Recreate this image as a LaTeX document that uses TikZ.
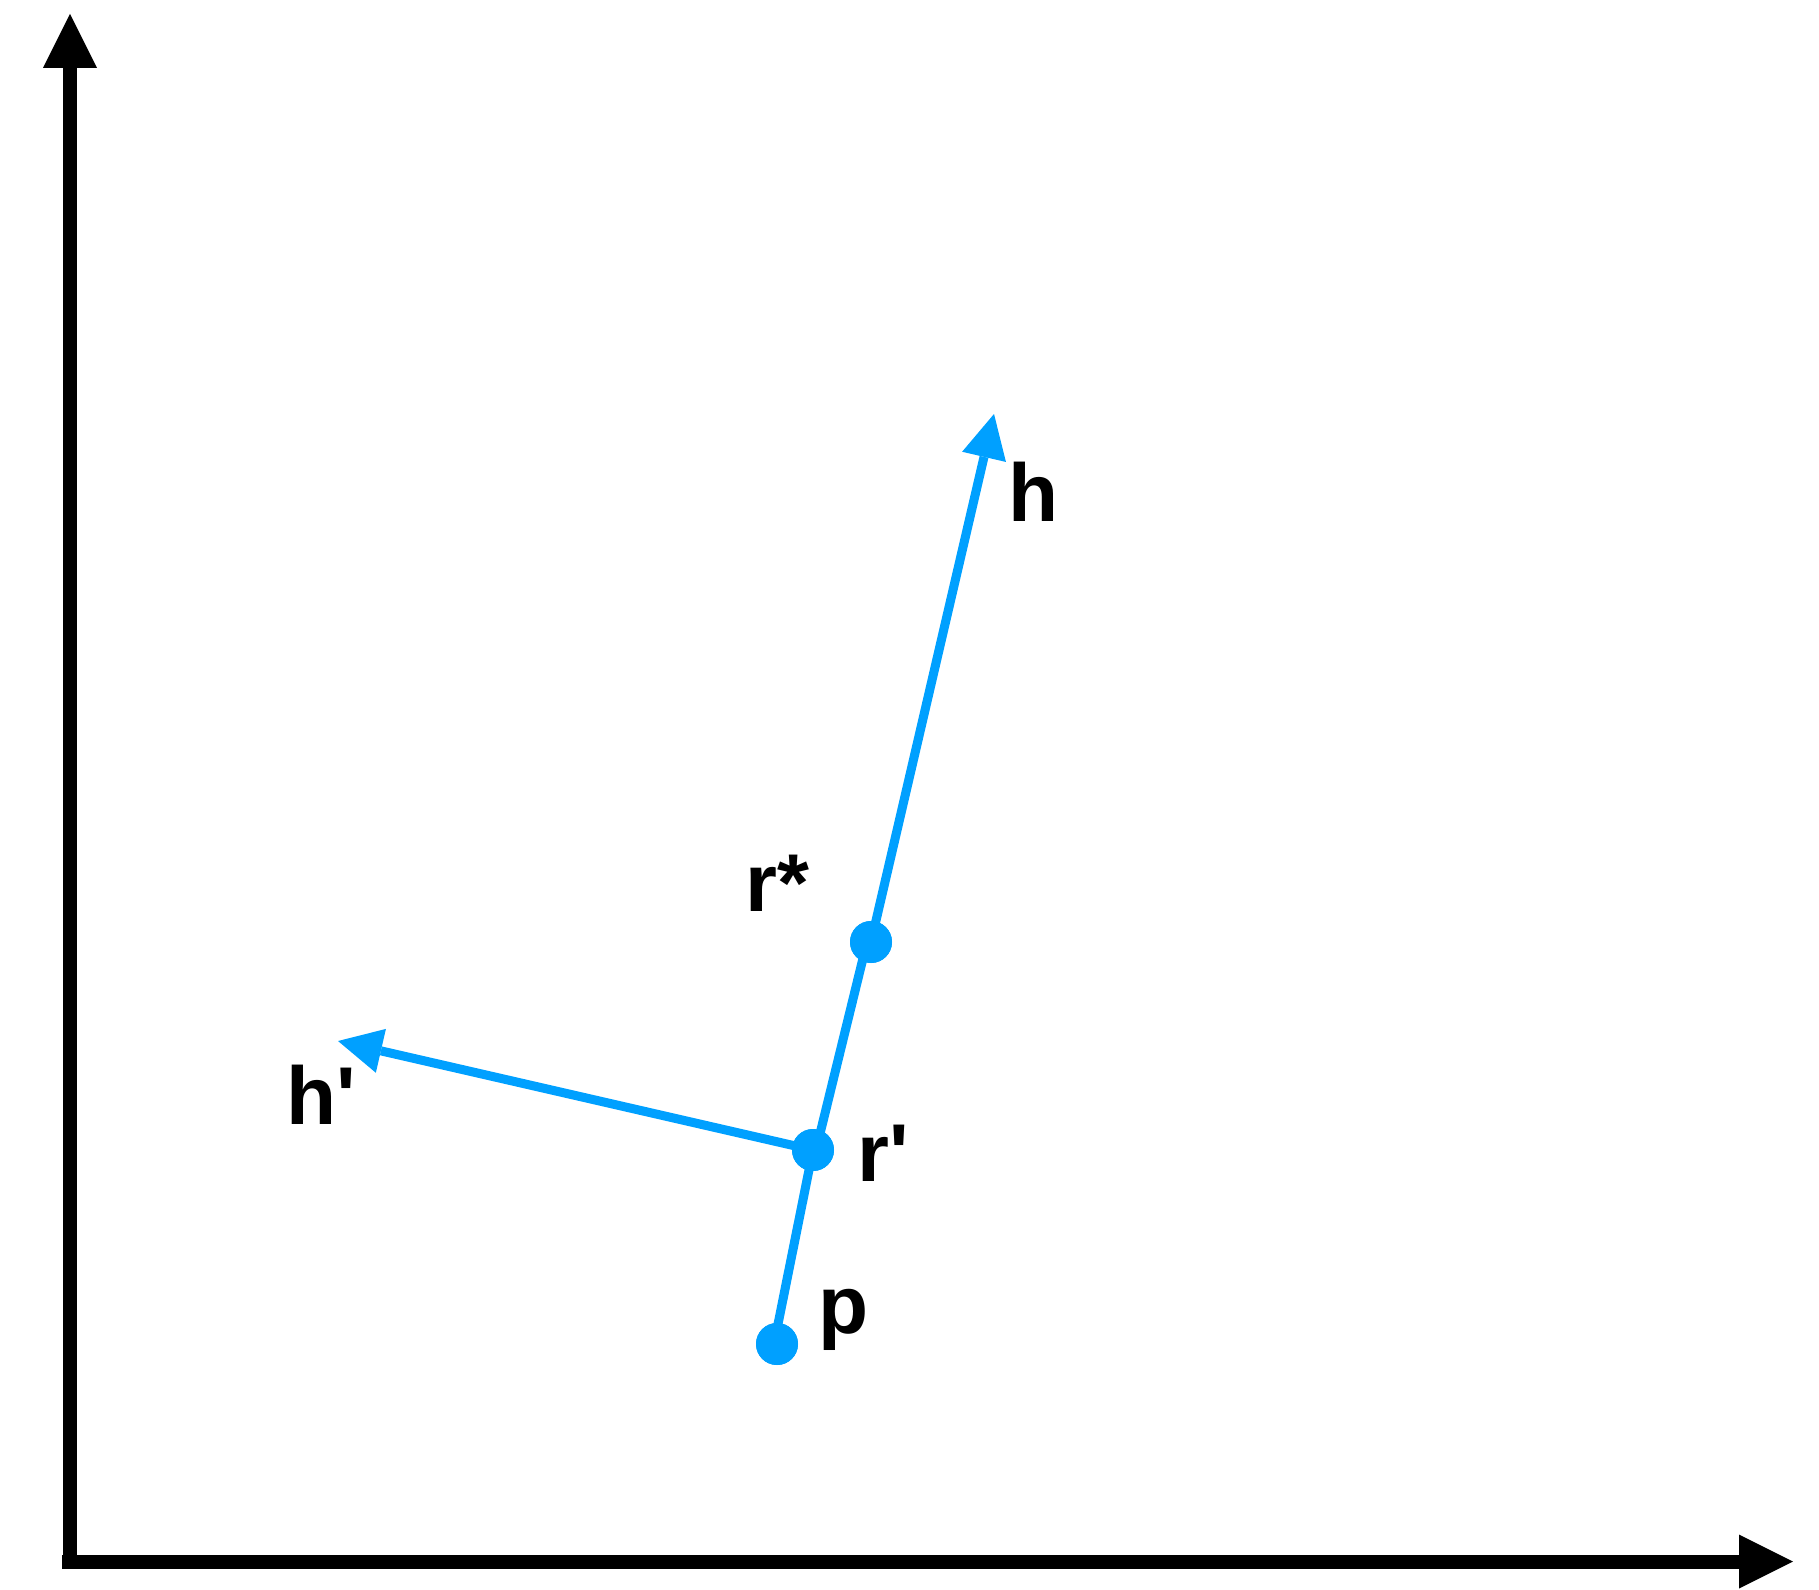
\documentclass[tikz,border=0pt]{standalone}
\usepackage{fontspec}
\newfontfamily\lblfont{Liberation Sans}
\usetikzlibrary{arrows.meta}
\definecolor{vecblue}{RGB}{0,160,255}
\begin{document}
\begin{tikzpicture}[x=1pt,y=-1pt,
  axis/.style={line width=14pt, draw=black},
  axistip/.style={-{Triangle[length=54pt,width=54pt,line width=0pt]}},
  vec/.style={line width=9pt, draw=vecblue},
  vectip/.style={-{Triangle[length=44pt,width=45pt,line width=0pt]}},
  pt/.style={circle, fill=vecblue, inner sep=0pt, minimum size=42pt},
  lbl/.style={anchor=base west, inner sep=0pt, font=\lblfont\fontsize{82pt}{98pt}\selectfont\bfseries}]
\useasboundingbox (0,0) rectangle (1819,1589);
% axes
\coordinate (origin) at (70,1561.5);
\coordinate (xstart) at (62,1561.5);
\coordinate (ytip) at (70,14);
\coordinate (xtip) at (1793,1561.5);
\draw[axis, axistip] (origin) -- (ytip);
\draw[axis, axistip] (xstart) -- (xtip);
% points
\node[pt] (p) at (777,1344) {};
\node[pt] (rp) at (813,1150) {};
\node[pt] (rs) at (871,942) {};
\coordinate (htip) at (994,414);
\coordinate (hptip) at (338,1041);
% vectors
\draw[vec] ([xshift=-3pt]p.center) -- (rp.center);
\draw[vec] ([xshift=3pt]rp.center) -- ([xshift=-4pt]rs.center);
\draw[vec, vectip] (rs.center) -- (htip);
\draw[vec, vectip] (rp.center) -- (hptip);
% redraw points on top
\node[pt] at (p) {};
\node[pt] at (rp) {};
\node[pt] at (rs) {};
% labels
\node[lbl] (lh) at (1008,521) {h};
\node[lbl] (lhp) at (286,1124) {h'};
\node[lbl] (lrs) at (745,911) {r*};
\node[lbl] (lrp) at (857,1181) {r'};
\node[lbl] (lp) at (818,1333) {p};
\end{tikzpicture}
\end{document}
